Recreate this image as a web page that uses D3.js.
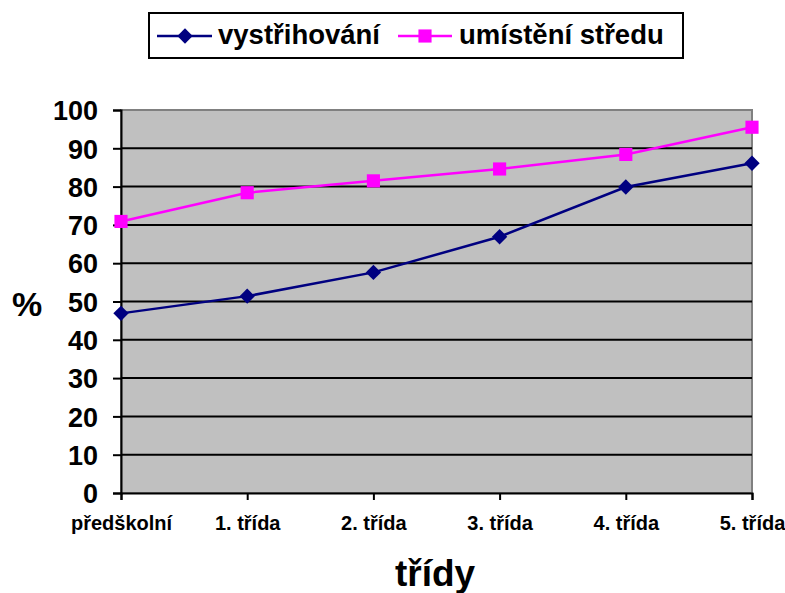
<!DOCTYPE html>
<html>
<head>
<meta charset="utf-8">
<script src="https://cdn.jsdelivr.net/npm/d3@7"></script>
<style>
  body { margin: 0; background: #fff; }
  text { font-family: "Liberation Sans", Arial, sans-serif; font-weight: bold; fill: #000; }
</style>
</head>
<body>
<div></div>
<script>
var categories = ["předškolní", "1. třída", "2. třída", "3. třída", "4. třída", "5. třída"];
var vystrihovani = [46.9, 51.4, 57.6, 66.9, 79.9, 86.1];
var umisteniStredu = [70.9, 78.4, 81.5, 84.6, 88.4, 95.5];
var yTicks = [0, 10, 20, 30, 40, 50, 60, 70, 80, 90, 100];
var seriesNames = ["vystřihování", "umístění středu"];

var width = 785,
    height = 593;

var svg = d3.select("div")
    .append("svg")
    .attr("width", width)
    .attr("height", height);

var plotLeft = 121, plotRight = 752, plotTop = 110, plotBottom = 493;

var x = d3.scalePoint()
    .domain(categories)
    .range([plotLeft, plotRight]);

var y = d3.scaleLinear()
    .domain([0, 100])
    .range([plotBottom, plotTop]);

// plot area
svg.append("rect")
    .attr("x", plotLeft).attr("y", plotTop)
    .attr("width", plotRight - plotLeft).attr("height", plotBottom - plotTop)
    .attr("fill", "#c0c0c0")
    .attr("stroke", "#808080")
    .attr("stroke-width", 2);

// gridlines
svg.append("g")
    .selectAll("line")
    .data(yTicks.filter(function (d) { return d > 0 && d < 100; }))
    .enter()
    .append("line")
    .attr("x1", plotLeft).attr("x2", plotRight)
    .attr("y1", function (d) { return y(d); })
    .attr("y2", function (d) { return y(d); })
    .attr("stroke", "#000")
    .attr("stroke-width", 2);

// y axis
var yAxis = svg.append("g")
    .attr("transform", "translate(" + plotLeft + ",0)")
    .call(d3.axisLeft(y).tickValues(yTicks).tickSize(8).tickPadding(15));
yAxis.selectAll("text").style("font-size", "27px").attr("dy", "0.36em");

// x axis
var xAxis = svg.append("g")
    .attr("transform", "translate(0," + plotBottom + ")")
    .call(d3.axisBottom(x).tickSize(7).tickPadding(16));
xAxis.selectAll("text").style("font-size", "20px");

svg.selectAll(".domain, .tick line")
    .attr("stroke", "#000")
    .attr("stroke-width", 2);

// lines
var line = d3.line()
    .x(function (d, i) { return x(categories[i]); })
    .y(function (d) { return y(d); });

svg.append("path")
    .datum(vystrihovani)
    .attr("d", line)
    .attr("fill", "none")
    .attr("stroke", "#000080")
    .attr("stroke-width", 2.5);

svg.append("path")
    .datum(umisteniStredu)
    .attr("d", line)
    .attr("fill", "none")
    .attr("stroke", "#ff00ff")
    .attr("stroke-width", 2.5);

var diamond = d3.symbol().type(d3.symbolDiamond2).size(150);
var square = d3.symbol().type(d3.symbolSquare2).size(220);

svg.append("g")
    .selectAll("path")
    .data(vystrihovani)
    .enter()
    .append("path")
    .attr("d", diamond)
    .attr("transform", function (d, i) { return "translate(" + x(categories[i]) + "," + y(d) + ")"; })
    .attr("fill", "#000080");

svg.append("g")
    .selectAll("path")
    .data(umisteniStredu)
    .enter()
    .append("path")
    .attr("d", square)
    .attr("transform", function (d, i) { return "translate(" + x(categories[i]) + "," + y(d) + ")"; })
    .attr("fill", "#ff00ff");

// axis titles
svg.append("text")
    .attr("x", 27).attr("y", 316)
    .attr("text-anchor", "middle")
    .style("font-size", "34px")
    .text("%");

svg.append("text")
    .attr("x", 435).attr("y", 586)
    .attr("text-anchor", "middle")
    .style("font-size", "37px")
    .text("třídy");

// legend
var legend = svg.append("g");
legend.append("rect")
    .attr("x", 149).attr("y", 13)
    .attr("width", 534).attr("height", 45)
    .attr("fill", "#fff")
    .attr("stroke", "#000")
    .attr("stroke-width", 2);

legend.append("line")
    .attr("x1", 157).attr("x2", 212).attr("y1", 36).attr("y2", 36)
    .attr("stroke", "#000080").attr("stroke-width", 2.5);
legend.append("path")
    .attr("d", diamond)
    .attr("transform", "translate(185,36)")
    .attr("fill", "#000080");
legend.append("text")
    .attr("x", 218).attr("y", 44)
    .style("font-size", "27.5px")
    .text(seriesNames[0]);

legend.append("line")
    .attr("x1", 398).attr("x2", 452).attr("y1", 36).attr("y2", 36)
    .attr("stroke", "#ff00ff").attr("stroke-width", 2.5);
legend.append("path")
    .attr("d", square)
    .attr("transform", "translate(425,36)")
    .attr("fill", "#ff00ff");
legend.append("text")
    .attr("x", 459).attr("y", 44)
    .style("font-size", "27.5px")
    .text(seriesNames[1]);
</script>
</body>
</html>
